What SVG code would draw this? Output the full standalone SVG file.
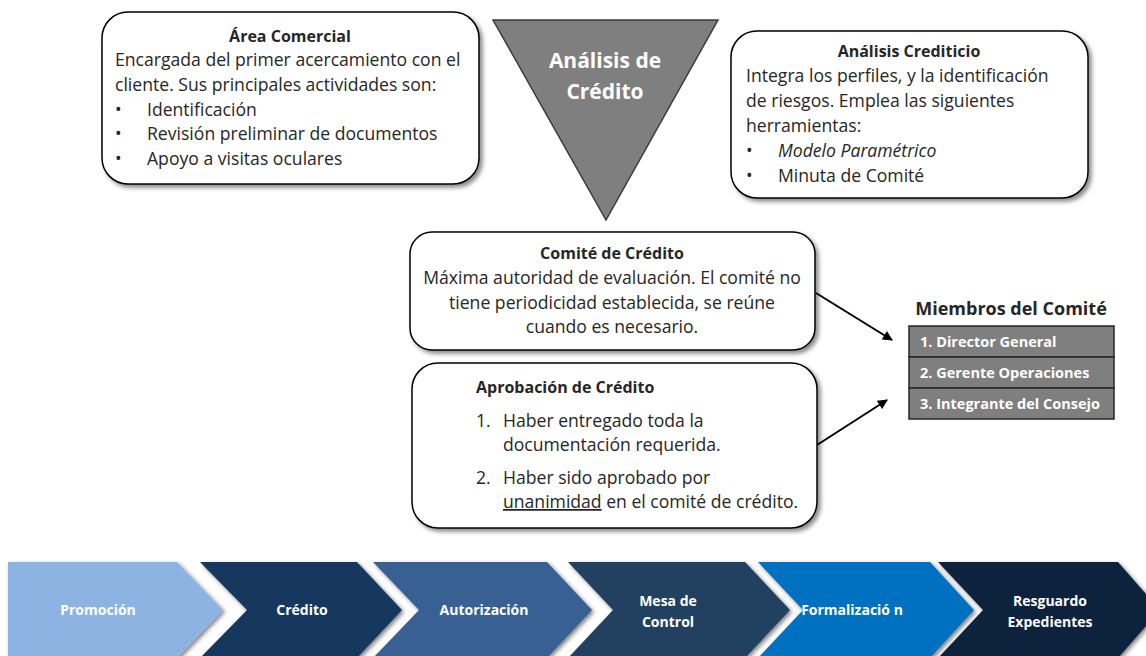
<svg xmlns="http://www.w3.org/2000/svg" width="1146" height="656" viewBox="0 0 1146 656">
<defs>
<filter id="sh" x="-10%" y="-10%" width="125%" height="130%">
<feDropShadow dx="3" dy="3" stdDeviation="2" flood-color="#000" flood-opacity="0.45"/>
</filter>
<filter id="shc" x="-10%" y="-10%" width="125%" height="130%">
<feDropShadow dx="2" dy="2" stdDeviation="2" flood-color="#000" flood-opacity="0.5"/>
</filter>
<marker id="ah2" viewBox="0 0 10 10" refX="9" refY="5" markerWidth="12" markerHeight="10" orient="auto" markerUnits="userSpaceOnUse">
<path d="M0,0 L10,5 L0,10 Z" fill="#000"/>
</marker>
</defs>
<style>
text{font-family:"Open Sans","Liberation Sans",Arial,sans-serif;}
.box{fill:#fff;stroke:#000;stroke-width:1.5;filter:url(#sh);}
.t{font-size:16px;font-weight:bold;fill:#262626;}
.mtitle{font-size:18px;font-weight:bold;fill:#262626;}
.b{font-size:17.6px;fill:#262626;}
.tri{font-size:21px;font-weight:bold;fill:#fff;}
.mem{fill:#7f7f7f;stroke:#262626;stroke-width:1.5;}
.mt{font-size:14.5px;font-weight:bold;fill:#fff;}
.chev{stroke:none;filter:url(#shc);}
.ct{font-size:14px;font-weight:bold;fill:#fff;text-anchor:middle;}
.conn{stroke:#000;stroke-width:2;fill:none;}
</style>
<rect width="1146" height="656" fill="#fff"/>

<g id="area-comercial">
<rect class="box" x="102" y="12" width="377" height="172" rx="26"/>
<text class="t" x="290" y="42" text-anchor="middle">Área Comercial</text>
<text class="b" x="115" y="66">Encargada del primer acercamiento con el</text>
<text class="b" x="115" y="91">cliente. Sus principales actividades son:</text>
<text class="b" x="115" y="116">•</text><text class="b" x="147" y="116">Identificación</text>
<text class="b" x="115" y="140">•</text><text class="b" x="147" y="140">Revisión preliminar de documentos</text>
<text class="b" x="115" y="165">•</text><text class="b" x="147" y="165">Apoyo a visitas oculares</text>
</g>

<g id="analisis-credito">
<polygon points="493,20 718,20 606,220" fill="#7f7f7f" stroke="#3a3a3a" stroke-width="1.5"/>
<text class="tri" x="605" y="68" text-anchor="middle">Análisis de</text>
<text class="tri" x="605" y="99" text-anchor="middle">Crédito</text>
</g>

<g id="analisis-crediticio">
<rect class="box" x="731" y="31" width="357" height="167" rx="26"/>
<text class="t" x="909" y="57" text-anchor="middle">Análisis Crediticio</text>
<text class="b" x="746" y="82">Integra los perfiles, y la identificación</text>
<text class="b" x="746" y="107">de riesgos. Emplea las siguientes</text>
<text class="b" x="746" y="132">herramientas:</text>
<text class="b" x="746" y="157">•</text><text class="b" x="778" y="157" font-style="italic">Modelo Paramétrico</text>
<text class="b" x="746" y="182">•</text><text class="b" x="778" y="182">Minuta de Comité</text>
</g>

<g id="comite-credito">
<rect class="box" x="410" y="232" width="405" height="118" rx="22"/>
<text class="t" x="612" y="259" text-anchor="middle">Comité de Crédito</text>
<text class="b" x="612" y="284" text-anchor="middle">Máxima autoridad de evaluación. El comité no</text>
<text class="b" x="612" y="309" text-anchor="middle">tiene periodicidad establecida, se reúne</text>
<text class="b" x="612" y="333" text-anchor="middle">cuando es necesario.</text>
</g>

<g id="aprobacion-credito">
<rect class="box" x="412" y="363" width="405" height="165" rx="26"/>
<text class="t" x="476" y="393">Aprobación de Crédito</text>
<text class="b" x="476" y="427">1.</text><text class="b" x="503" y="427">Haber entregado toda la</text>
<text class="b" x="503" y="451">documentación requerida.</text>
<text class="b" x="476" y="484">2.</text><text class="b" x="503" y="484">Haber sido aprobado por</text>
<text class="b" x="503" y="508"><tspan text-decoration="underline">unanimidad</tspan> en el comité de crédito.</text>
</g>

<g id="miembros-comite">
<text class="mtitle" x="1011" y="315" text-anchor="middle">Miembros del Comité</text>
<rect class="mem" x="909" y="326" width="205" height="31"/>
<rect class="mem" x="909" y="357" width="205" height="31"/>
<rect class="mem" x="909" y="388" width="205" height="31"/>
<text class="mt" x="920" y="347">1. Director General</text>
<text class="mt" x="920" y="378">2. Gerente Operaciones</text>
<text class="mt" x="920" y="409">3. Integrante del Consejo</text>
</g>

<g id="connectors">
<line class="conn" x1="816" y1="293" x2="892" y2="340" marker-end="url(#ah2)"/>
<line class="conn" x1="817" y1="445" x2="887" y2="400" marker-end="url(#ah2)"/>
</g>

<g id="chev-promocion">
<polygon class="chev" points="8,562 177,562 223,610 177,658 8,658" fill="#8db3e2"/>
<text class="ct" x="98" y="615">Promoción</text>
</g>
<g id="chev-credito">
<polygon class="chev" points="200,562 357,562 402,610 357,658 200,658 247,610" fill="#17375e"/>
<text class="ct" x="302" y="615">Crédito</text>
</g>
<g id="chev-autorizacion">
<polygon class="chev" points="373,562 547,562 592,610 547,658 373,658 419,610" fill="#376092"/>
<text class="ct" x="484" y="615">Autorización</text>
</g>
<g id="chev-mesa">
<polygon class="chev" points="568,562 745,562 790,610 745,658 568,658 613,610" fill="#243f60"/>
<text class="ct" x="668" y="606">Mesa de</text>
<text class="ct" x="668" y="627">Control</text>
</g>
<g id="chev-formalizacion">
<polygon class="chev" points="758,562 930,562 974,610 930,658 758,658 803,610" fill="#0070c0"/>
<text class="ct" x="852" y="615">Formalizació n</text>
</g>
<g id="chev-resguardo">
<polygon class="chev" points="938,562 1118,562 1160,610 1118,658 938,658 983,610" fill="#0f243e"/>
<text class="ct" x="1050" y="606">Resguardo</text>
<text class="ct" x="1050" y="627">Expedientes</text>
</g>
</svg>
